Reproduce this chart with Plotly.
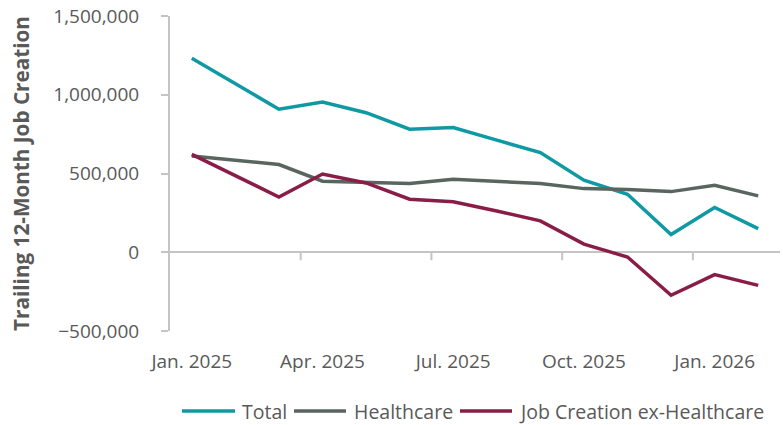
import plotly.graph_objects as go

months = ["Jan. 2025", "Feb. 2025", "Mar. 2025", "Apr. 2025", "May 2025", "Jun. 2025",
          "Jul. 2025", "Aug. 2025", "Sep. 2025", "Oct. 2025", "Nov. 2025", "Dec. 2025",
          "Jan. 2026", "Feb. 2026"]
total = [1232000, 1070000, 908000, 954000, 886000, 781000, 792000, 712000, 633000,
         457000, 368000, 112000, 284000, 150000]
healthcare = [611000, 585000, 557000, 451000, 444000, 436000, 463000, 448000, 436000,
              404000, 398000, 385000, 425000, 358000]
ex_healthcare = [621000, 486000, 351000, 497000, 440000, 337000, 320000, 262000, 199000,
                 52000, -30000, -273000, -142000, -210000]
series_names = ["Total", "Healthcare", "Job Creation ex-Healthcare"]
series_colors = ["#0f9aa3", "#59655f", "#8a1d47"]
tick_labels = ["Jan. 2025", "Apr. 2025", "Jul. 2025", "Oct. 2025", "Jan. 2026"]
tick_idx = [0, 3, 6, 9, 12]
y_ticks = [-500000, 0, 500000, 1000000, 1500000]

x = list(range(len(months)))
fig = go.Figure()
for name, vals, col in zip(series_names, [total, healthcare, ex_healthcare], series_colors):
    fig.add_trace(go.Scatter(x=x, y=vals, mode="lines", name=name,
                             line=dict(color=col, width=3.5), customdata=months,
                             hovertemplate="%{customdata}: %{y:,}<extra>" + name + "</extra>"))

font_family = "Open Sans, Noto Sans, sans-serif"
txt = "#595959"
axc = "#c4c4c4"

# category boundary tick marks on the zero line
shapes = []
for b in [2.5, 5.5, 8.5, 11.5]:
    shapes.append(dict(type="line", xref="x", yref="y", x0=b, x1=b, ysizemode="pixel",
                       yanchor=0, y0=0, y1=-8, line=dict(color=axc, width=2)))

# custom legend
L, W, B, H = 170, 610, 94, 315
def px(v):
    return (v - L) / W
ly = (331 - 411) / H
leg = [(182, 235, 240), (294, 346, 352), (460, 512, 517)]
annotations = []
for (a, b, t), name, col in zip(leg, series_names, series_colors):
    shapes.append(dict(type="line", xref="paper", yref="paper", x0=px(a), x1=px(b),
                       y0=ly, y1=ly, line=dict(color=col, width=3.5)))
    annotations.append(dict(text=name, xref="paper", yref="paper", x=px(t), y=ly,
                            xanchor="left", yanchor="middle", showarrow=False,
                            font=dict(size=19.5, color=txt, family=font_family)))

fig.update_layout(
    width=783, height=425,
    margin=dict(l=L, r=783 - L - W, t=16, b=B),
    plot_bgcolor="white", paper_bgcolor="white",
    showlegend=False,
    font=dict(family=font_family, size=19, color=txt),
    shapes=shapes, annotations=annotations,
    xaxis=dict(range=[-0.5, 13.5], tickvals=tick_idx, ticktext=tick_labels,
               showgrid=False, zeroline=False, showline=False, ticks="",
               ticklabelstandoff=17, tickfont=dict(size=19, color=txt)),
    yaxis=dict(range=[-500000, 1500000], tickvals=y_ticks, tickformat=",",
               showgrid=False, zeroline=True, zerolinecolor=axc, zerolinewidth=2,
               showline=True, linecolor=axc, linewidth=2, ticks="outside", ticklen=7,
               tickcolor=axc, tickwidth=2, ticklabelstandoff=18,
               tickfont=dict(size=19, color=txt),
               title=dict(text="<b>Trailing 12-Month Job Creation</b>", standoff=18,
                          font=dict(size=20.7, color=txt))),
)
fig.write_html("out.html")
